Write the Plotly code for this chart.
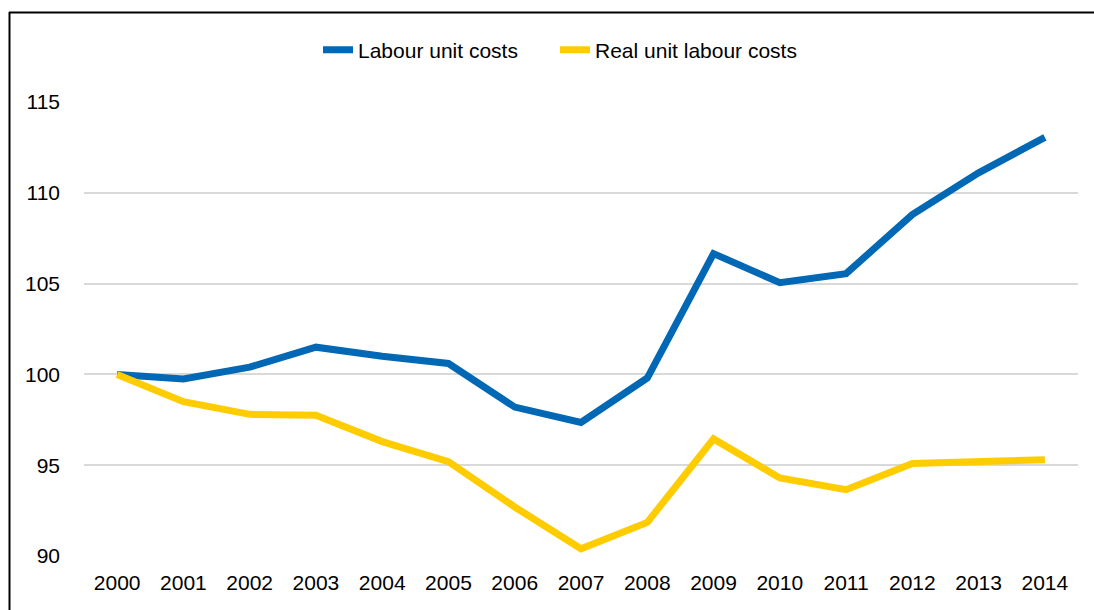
import plotly.graph_objects as go

years = [str(y) for y in range(2000, 2015)]
labour_unit_costs = [100.0, 99.75, 100.4, 101.5, 101.0, 100.6, 98.2, 97.35, 99.8,
                     106.65, 105.05, 105.55, 108.8, 111.1, 113.05]
real_unit_labour_costs = [100.0, 98.5, 97.8, 97.75, 96.3, 95.2, 92.7, 90.4, 91.85,
                          96.45, 94.3, 93.65, 95.1, 95.2, 95.3]
y_ticks = [90, 95, 100, 105, 110, 115]

W, H = 1094, 610
FONT = "Liberation Sans, Arial, sans-serif"
FS = 21

fig = go.Figure()
fig.add_trace(go.Scatter(
    x=years, y=labour_unit_costs, mode="lines", name="Labour unit costs",
    line=dict(color="#0068B4", width=7), legend="legend",
))
fig.add_trace(go.Scatter(
    x=years, y=real_unit_labour_costs, mode="lines", name="Real unit labour costs",
    line=dict(color="#FFCC00", width=7), legend="legend2",
))

m_l, m_r, m_t, m_b = 84, 16, 102, 54
pw = W - m_l - m_r
ph = H - m_t - m_b

def px_x(x):
    return (x - m_l) / pw

def px_y(y):
    return (H - m_b - y) / ph

def legend_at(left_px):
    return dict(
        orientation="h", x=px_x(left_px), xanchor="left",
        y=px_y(50), yanchor="middle",
        font=dict(family=FONT, size=FS, color="#000000"),
        bgcolor="rgba(0,0,0,0)",
    )

fig.update_layout(
    width=W, height=H,
    margin=dict(l=m_l, r=m_r, t=m_t, b=m_b),
    paper_bgcolor="white", plot_bgcolor="white",
    font=dict(family=FONT, size=FS, color="#000000"),
    showlegend=True,
    legend=legend_at(318),
    legend2=legend_at(555),
    xaxis=dict(
        type="category", range=[-0.5, 14.5], showgrid=False, showline=False,
        ticks="", tickfont=dict(family=FONT, size=FS), zeroline=False,
        ticklabelstandoff=12, fixedrange=True,
    ),
    yaxis=dict(
        range=[90, 115], tickvals=y_ticks, showgrid=True, gridcolor="#D9D9D9",
        gridwidth=2, showline=False, zeroline=False, ticks="",
        tickfont=dict(family=FONT, size=FS), ticklabelstandoff=23,
        fixedrange=True,
    ),
    shapes=[
        # outer frame: top and left edges
        dict(type="line", xref="paper", yref="paper",
             x0=px_x(9), x1=px_x(W + 5), y0=px_y(12.5), y1=px_y(12.5),
             line=dict(color="#000000", width=2)),
        dict(type="line", xref="paper", yref="paper",
             x0=px_x(9.5), x1=px_x(9.5), y0=px_y(12), y1=px_y(H + 5),
             line=dict(color="#000000", width=2)),
    ],
)

fig.write_html("out.html")
